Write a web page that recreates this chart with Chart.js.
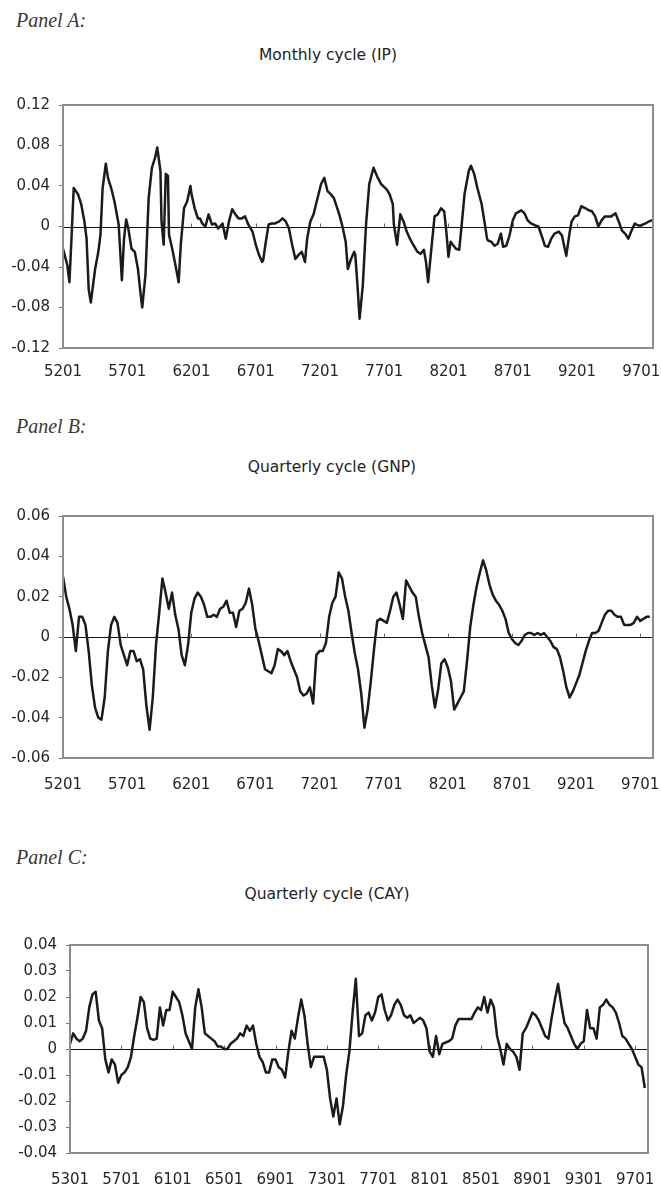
<!DOCTYPE html>
<html>
<head>
<meta charset="utf-8">
<title>Business cycle components</title>
<script src="https://cdn.jsdelivr.net/npm/chart.js@4"></script>
<style>
  html, body { margin: 0; padding: 0; background: #fff; }
  body { position: relative; width: 661px; height: 1188px; overflow: hidden; }
  .tag { position: absolute; left: 16px; font: italic 20px "Liberation Serif", serif; color: #3a3a3a; line-height: 22px; white-space: nowrap; }
  .title { position: absolute; transform: translateX(-50%); font: 15.5px "DejaVu Sans", sans-serif; color: #222; line-height: 18px; white-space: nowrap; }
  .panel { position: absolute; left: 0; }
</style>
</head>
<body>
<div class="tag" style="top:9px">Panel A:</div>
<div class="title" style="left:328px; top:46px">Monthly cycle (IP)</div>
<div class="panel" style="top:90px"><canvas id="chartA" width="661" height="300"></canvas></div>

<div class="tag" style="top:415px">Panel B:</div>
<div class="title" style="left:332px; top:458px">Quarterly cycle (GNP)</div>
<div class="panel" style="top:500px"><canvas id="chartB" width="661" height="310"></canvas></div>

<div class="tag" style="top:846px">Panel C:</div>
<div class="title" style="left:327px; top:885px">Quarterly cycle (CAY)</div>
<div class="panel" style="top:930px"><canvas id="chartC" width="661" height="258"></canvas></div>

<script>
// ---- Panel A: monthly IP cycle (months counted from 1952:01) ----
const ipTickLabels = ['5201','5701','6201','6701','7201','7701','8201','8701','9201','9701'];
const ipYTicks = [-0.12, -0.08, -0.04, 0, 0.04, 0.08, 0.12];
const ipMonthIndex = [
  0,2,4,6,8,10,14,17,20,22,
  24,26,30,33,35,37,40,42,45,48,
  52,54,55,57,59,61,64,67,70,72,
  74,77,80,83,86,88,91,92,94,96,
  98,99,102,105,108,110,113,116,119,120,
  123,126,128,130,133,136,139,142,145,149,
  152,155,158,161,164,167,170,173,177,180,
  183,186,187,189,192,195,198,202,205,208,
  211,214,217,220,223,226,228,231,234,237,
  241,244,247,250,253,258,261,264,266,269,
  272,273,275,277,280,283,286,290,294,297,
  302,305,308,309,312,315,318,321,324,327,
  331,334,337,339,341,344,347,350,353,356,
  358,360,362,364,367,370,372,375,379,381,
  384,387,391,394,396,397,400,403,406,409,
  411,414,417,420,423,428,431,434,437,441,
  444,447,450,453,456,459,463,466,469,470,
  473,475,478,481,484,488,491,494,497,500,
  503,506,509,512,516,519,522,525,528,531,
  534,537,540,544,547,550,551
];
const ipCycle = [
  -0.022,-0.030,-0.038,-0.055,-0.010,0.038,0.032,0.022,0.005,-0.012,
  -0.062,-0.075,-0.042,-0.025,-0.008,0.038,0.062,0.048,0.038,0.025,
  0.002,-0.035,-0.053,-0.012,0.007,-0.002,-0.022,-0.025,-0.042,-0.062,
  -0.080,-0.048,0.028,0.058,0.068,0.078,0.055,0.005,-0.018,0.052,
  0.050,-0.008,-0.022,-0.038,-0.055,-0.018,0.018,0.025,0.040,0.032,
  0.018,0.008,0.008,0.003,0.000,0.012,0.002,0.003,-0.002,0.003,
  -0.012,0.005,0.017,0.012,0.008,0.008,0.010,0.002,-0.005,-0.018,
  -0.028,-0.035,-0.033,-0.018,0.002,0.003,0.003,0.005,0.008,0.005,
  -0.002,-0.018,-0.032,-0.028,-0.025,-0.035,-0.012,0.005,0.012,0.025,
  0.042,0.048,0.035,0.032,0.028,0.012,0.000,-0.015,-0.042,-0.032,
  -0.025,-0.028,-0.058,-0.091,-0.058,0.002,0.042,0.058,0.048,0.042,
  0.037,0.032,0.022,0.002,-0.018,0.012,0.005,-0.005,-0.012,-0.018,
  -0.025,-0.027,-0.023,-0.035,-0.055,-0.022,0.010,0.012,0.018,0.015,
  -0.005,-0.030,-0.015,-0.018,-0.022,-0.023,-0.002,0.032,0.055,0.060,
  0.052,0.038,0.022,0.002,-0.012,-0.014,-0.015,-0.019,-0.017,-0.007,
  -0.020,-0.019,-0.009,0.006,0.013,0.016,0.013,0.006,0.003,0.001,
  0.000,-0.009,-0.019,-0.020,-0.012,-0.007,-0.005,-0.009,-0.024,-0.029,
  -0.007,0.005,0.010,0.011,0.020,0.018,0.016,0.015,0.010,0.000,
  0.006,0.010,0.010,0.010,0.013,0.005,-0.004,-0.007,-0.012,-0.004,
  0.003,0.001,0.001,0.003,0.005,0.006,0.007
];

// ---- Panel B: quarterly GNP cycle, 1952:1 - 1997:4 ----
const gnpTickLabels = ['5201','5701','6201','6701','7201','7701','8201','8701','9201','9701'];
const gnpYTicks = [-0.06, -0.04, -0.02, 0, 0.02, 0.04, 0.06];
const gnpCycle = [
  0.030,0.020,0.014,0.006,-0.007,0.010,0.010,0.006,-0.007,-0.024,
  -0.035,-0.040,-0.041,-0.030,-0.007,0.006,0.010,0.007,-0.004,-0.009,
  -0.014,-0.007,-0.007,-0.012,-0.011,-0.016,-0.034,-0.046,-0.030,-0.004,
  0.012,0.029,0.022,0.014,0.022,0.011,0.004,-0.009,-0.014,-0.004,
  0.012,0.019,0.022,0.020,0.016,0.010,0.010,0.011,0.010,0.014,
  0.015,0.018,0.012,0.012,0.005,0.013,0.014,0.017,0.024,0.016,
  0.004,-0.002,-0.009,-0.016,-0.017,-0.018,-0.014,-0.006,-0.007,-0.009,
  -0.007,-0.012,-0.016,-0.020,-0.027,-0.029,-0.028,-0.025,-0.033,-0.009,
  -0.007,-0.007,-0.003,0.010,0.017,0.020,0.032,0.029,0.020,0.013,
  0.002,-0.008,-0.016,-0.028,-0.045,-0.036,-0.022,-0.006,0.008,0.009,
  0.008,0.007,0.013,0.020,0.022,0.016,0.009,0.028,0.025,0.022,
  0.020,0.010,0.002,-0.004,-0.010,-0.024,-0.035,-0.026,-0.013,-0.011,
  -0.015,-0.022,-0.036,-0.033,-0.030,-0.027,-0.012,0.005,0.016,0.025,
  0.032,0.038,0.033,0.026,0.021,0.018,0.016,0.013,0.009,0.002,
  -0.001,-0.003,-0.004,-0.002,0.001,0.002,0.002,0.001,0.002,0.001,
  0.002,0.000,-0.002,-0.005,-0.006,-0.010,-0.017,-0.025,-0.030,-0.027,
  -0.023,-0.019,-0.013,-0.007,-0.002,0.002,0.002,0.003,0.007,0.011,
  0.013,0.013,0.011,0.010,0.010,0.006,0.006,0.006,0.007,0.010,
  0.008,0.009,0.010,0.010
];

// ---- Panel C: quarterly CAY cycle, 1953:1 - 1997:4 ----
const cayTickLabels = ['5301','5701','6101','6501','6901','7301','7701','8101','8501','8901','9301','9701'];
const cayYTicks = [-0.04, -0.03, -0.02, -0.01, 0, 0.01, 0.02, 0.03, 0.04];
const cayCycle = [
  0.002,0.006,0.004,0.003,0.004,0.007,0.016,0.021,0.022,0.011,
  0.008,-0.004,-0.009,-0.004,-0.006,-0.013,-0.010,-0.009,-0.007,-0.003,
  0.005,0.012,0.020,0.018,0.008,0.004,0.0035,0.004,0.016,0.009,
  0.015,0.015,0.022,0.020,0.018,0.013,0.006,0.003,0.000,0.016,
  0.023,0.016,0.006,0.005,0.004,0.003,0.001,0.001,0.000,0.000,
  0.002,0.003,0.004,0.006,0.005,0.009,0.007,0.009,0.002,-0.003,
  -0.005,-0.009,-0.009,-0.004,-0.004,-0.007,-0.008,-0.011,-0.001,0.007,
  0.004,0.012,0.019,0.013,0.002,-0.007,-0.003,-0.003,-0.003,-0.003,
  -0.008,-0.019,-0.026,-0.019,-0.029,-0.022,-0.010,-0.001,0.014,0.027,
  0.005,0.006,0.013,0.014,0.011,0.014,0.020,0.021,0.015,0.011,
  0.013,0.017,0.019,0.017,0.013,0.012,0.013,0.010,0.011,0.012,
  0.011,0.008,-0.001,-0.003,0.005,-0.002,0.002,0.0025,0.003,0.004,
  0.009,0.0115,0.0115,0.0115,0.0115,0.0115,0.014,0.016,0.015,0.020,
  0.014,0.019,0.016,0.005,0.000,-0.006,0.002,0.000,-0.001,-0.003,
  -0.008,0.006,0.008,0.011,0.014,0.013,0.011,0.008,0.005,0.004,
  0.012,0.019,0.025,0.017,0.010,0.008,0.005,0.002,0.000,0.002,
  0.003,0.015,0.008,0.008,0.004,0.016,0.017,0.019,0.017,0.016,
  0.014,0.010,0.005,0.004,0.002,0.000,-0.003,-0.006,-0.007,-0.015
];

// Date label 'YYPP' -> periods elapsed since the label of the first period
function periodOffset(label, first, perYear) {
  const yy = +label.slice(0, 2), pp = +label.slice(2);
  const y0 = +first.slice(0, 2), p0 = +first.slice(2);
  return (yy - y0) * perYear + (pp - p0);
}

const TEXT = '#262626';

// Grey plot frame, black zero line and the small category ticks sitting on it
const frameAndZero = {
  id: 'frameAndZero',
  beforeDatasetsDraw(chart) {
    const { ctx, chartArea: a, scales: { x, y } } = chart;
    const y0 = Math.round(y.getPixelForValue(0)) + 0.5;
    ctx.save();
    ctx.strokeStyle = '#111';
    ctx.lineWidth = 1;
    ctx.beginPath();
    ctx.moveTo(a.left, y0);
    ctx.lineTo(a.right, y0);
    ctx.stroke();
    ctx.strokeStyle = '#666';
    ctx.beginPath();
    x.ticks.forEach(t => {
      const px = Math.round(x.getPixelForValue(t.value)) + 0.5;
      ctx.moveTo(px, y0 - 4);
      ctx.lineTo(px, y0);
    });
    ctx.stroke();
    ctx.restore();
  },
  afterDraw(chart) {
    const { ctx, chartArea: a } = chart;
    ctx.save();
    ctx.strokeStyle = '#8c8c8c';
    ctx.lineWidth = 2;
    ctx.strokeRect(a.left, a.top, a.right - a.left, a.bottom - a.top);
    ctx.restore();
  }
};

function cycleChart(id, cfg) {
  const xTickValues = cfg.xLabels.map(l => periodOffset(l, cfg.firstLabel, cfg.perYear));
  return new Chart(document.getElementById(id), {
    type: 'line',
    data: {
      datasets: [{
        data: cfg.points,
        borderColor: '#1b1b1b',
        borderWidth: 2.5,
        borderJoinStyle: 'round',
        pointRadius: 0,
        tension: 0,
        fill: false
      }]
    },
    options: {
      responsive: false,
      animation: false,
      layout: { padding: { top: cfg.top, right: cfg.right, left: 0, bottom: 0 } },
      plugins: { legend: { display: false }, tooltip: { enabled: false }, title: { display: false } },
      scales: {
        x: {
          type: 'linear',
          min: cfg.xMin,
          max: cfg.xMax,
          grid: { display: false, drawTicks: false },
          border: { display: false },
          afterBuildTicks: s => { s.ticks = xTickValues.map(v => ({ value: v })); },
          ticks: {
            autoSkip: false,
            maxRotation: 0,
            padding: cfg.labelPad,
            color: TEXT,
            font: { family: 'DejaVu Sans', size: 15 },
            callback: (v, i) => cfg.xLabels[i]
          },
          afterFit: s => { s.height = cfg.xAxisHeight; s.paddingLeft = 0; s.paddingRight = 0; }
        },
        y: {
          min: cfg.yTicks[0],
          max: cfg.yTicks[cfg.yTicks.length - 1],
          grid: { drawOnChartArea: false, drawTicks: true, tickLength: 4, tickColor: '#777', color: '#777' },
          border: { display: false },
          afterBuildTicks: s => { s.ticks = cfg.yTicks.map(v => ({ value: v })); },
          ticks: {
            padding: 9,
            color: TEXT,
            font: { family: 'DejaVu Sans', size: 15 },
            callback: v => (v === 0 ? '0' : v.toFixed(2))
          },
          afterFit: s => { s.width = cfg.yAxisWidth; s.paddingTop = 0; s.paddingBottom = 0; }
        }
      }
    },
    plugins: [frameAndZero]
  });
}

cycleChart('chartA', {
  points: ipMonthIndex.map((m, i) => ({ x: m, y: ipCycle[i] })),
  xLabels: ipTickLabels, firstLabel: '5201', perYear: 12,
  xMin: 0, xMax: 551, yTicks: ipYTicks,
  top: 15, right: 8, yAxisWidth: 63, xAxisHeight: 42, labelPad: 15
});

cycleChart('chartB', {
  points: gnpCycle.map((v, i) => ({ x: i, y: v })),
  xLabels: gnpTickLabels, firstLabel: '5201', perYear: 4,
  xMin: 0, xMax: 184, yTicks: gnpYTicks,
  top: 16, right: 8, yAxisWidth: 63, xAxisHeight: 52, labelPad: 18
});

cycleChart('chartC', {
  points: cayCycle.map((v, i) => ({ x: i, y: v })),
  xLabels: cayTickLabels, firstLabel: '5301', perYear: 4,
  xMin: 0, xMax: 180, yTicks: cayYTicks,
  top: 15, right: 13, yAxisWidth: 70, xAxisHeight: 35, labelPad: 18
});
</script>
</body>
</html>
